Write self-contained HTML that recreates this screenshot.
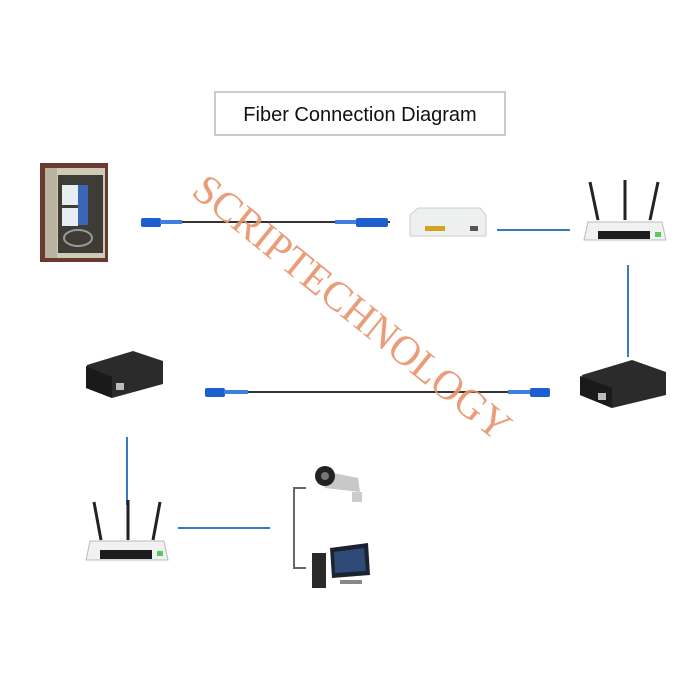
<!DOCTYPE html>
<html><head><meta charset="utf-8"><style>
html,body{margin:0;padding:0;background:#fff;width:700px;height:700px;overflow:hidden}
</style></head><body>
<svg width="700" height="700" viewBox="0 0 700 700" xmlns="http://www.w3.org/2000/svg">
<rect width="700" height="700" fill="#fff"/>
<!-- title -->
<rect x="215" y="92" width="290" height="43" fill="#fff" stroke="#bbb" stroke-width="1.5"/>
<text x="360" y="121" font-family="Liberation Sans, sans-serif" font-size="20" text-anchor="middle" fill="#111">Fiber Connection Diagram</text>

<!-- cabinet -->
<rect x="40" y="163" width="68" height="99" fill="#6b3a2e"/>
<rect x="45" y="168" width="60" height="90" fill="#cfcab8"/>
<rect x="45" y="168" width="12" height="90" fill="#b9b3a0"/>
<rect x="58" y="175" width="45" height="78" fill="#3d3c35"/>
<rect x="62" y="185" width="16" height="20" fill="#e6eef3"/>
<rect x="62" y="208" width="16" height="18" fill="#e6eef3"/>
<rect x="78" y="185" width="10" height="40" fill="#3b66b8"/>
<ellipse cx="78" cy="238" rx="14" ry="8" fill="none" stroke="#999" stroke-width="2"/>

<!-- fiber cable 1 -->
<line x1="160" y1="222" x2="390" y2="222" stroke="#333" stroke-width="2"/>
<rect x="141" y="218" width="20" height="9" rx="2" fill="#1e5fcf"/>
<rect x="160" y="220" width="22" height="4" fill="#3f7fe0"/>
<rect x="335" y="220" width="22" height="4" fill="#3f7fe0"/>
<rect x="356" y="218" width="32" height="9" rx="2" fill="#1e5fcf"/>

<!-- modem -->
<path d="M410 215 L418 208 L480 208 L486 215 L486 236 L410 236 Z" fill="#eef0ef" stroke="#ccc"/>
<rect x="425" y="226" width="20" height="5" fill="#d6a21e"/>
<rect x="470" y="226" width="8" height="5" fill="#555"/>
<line x1="497" y1="230" x2="570" y2="230" stroke="#3a78c3" stroke-width="2"/>

<!-- router top -->
<g>
<line x1="590" y1="182" x2="598" y2="220" stroke="#222" stroke-width="3"/>
<line x1="625" y1="180" x2="625" y2="220" stroke="#222" stroke-width="3"/>
<line x1="658" y1="182" x2="650" y2="220" stroke="#222" stroke-width="3"/>
<path d="M588 222 L662 222 L666 240 L584 240 Z" fill="#f1f1f1" stroke="#bbb"/>
<rect x="598" y="231" width="52" height="8" fill="#1d1d1d"/>
<rect x="655" y="232" width="6" height="5" fill="#5c5"/>
</g>
<line x1="628" y1="265" x2="628" y2="357" stroke="#3a78c3" stroke-width="2"/>

<!-- converter right -->
<path d="M582 375 L632 360 L666 372 L666 395 L612 408 L580 395 Z" fill="#2b2b2b"/>
<path d="M580 376 L612 388 L612 408 L580 395 Z" fill="#1a1a1a"/>
<rect x="598" y="393" width="8" height="7" fill="#bbb"/>

<!-- fiber cable 2 -->
<line x1="215" y1="392" x2="545" y2="392" stroke="#333" stroke-width="2"/>
<rect x="205" y="388" width="20" height="9" rx="2" fill="#1e5fcf"/>
<rect x="224" y="390" width="24" height="4" fill="#3f7fe0"/>
<rect x="508" y="390" width="22" height="4" fill="#3f7fe0"/>
<rect x="530" y="388" width="20" height="9" rx="2" fill="#1e5fcf"/>

<!-- converter left -->
<path d="M87 365 L133 351 L163 361 L163 384 L112 398 L86 388 Z" fill="#2b2b2b"/>
<path d="M86 366 L112 377 L112 398 L86 388 Z" fill="#1a1a1a"/>
<rect x="116" y="383" width="8" height="7" fill="#bbb"/>

<line x1="127" y1="437" x2="127" y2="505" stroke="#3a78c3" stroke-width="2"/>

<!-- router bottom -->
<g>
<line x1="94" y1="502" x2="101" y2="540" stroke="#222" stroke-width="3"/>
<line x1="128" y1="500" x2="128" y2="540" stroke="#222" stroke-width="3"/>
<line x1="160" y1="502" x2="153" y2="540" stroke="#222" stroke-width="3"/>
<path d="M90 541 L164 541 L168 560 L86 560 Z" fill="#f1f1f1" stroke="#bbb"/>
<rect x="100" y="550" width="52" height="9" fill="#1d1d1d"/>
<rect x="157" y="551" width="6" height="5" fill="#5c5"/>
</g>
<line x1="178" y1="528" x2="270" y2="528" stroke="#3a78c3" stroke-width="2"/>

<!-- bracket -->
<path d="M306 488 L294 488 L294 568 L306 568" fill="none" stroke="#666" stroke-width="2"/>

<!-- camera -->
<path d="M318 470 L358 478 L360 492 L325 488 Z" fill="#c8c8c8"/>
<circle cx="325" cy="476" r="10" fill="#222"/>
<circle cx="325" cy="476" r="4" fill="#777"/>
<rect x="352" y="492" width="10" height="10" fill="#ccc"/>

<!-- PC -->
<rect x="312" y="553" width="14" height="35" fill="#2a2a2a"/>
<path d="M330 548 L368 543 L370 575 L332 578 Z" fill="#1c2330"/>
<path d="M334 552 L364 548 L366 571 L335 573 Z" fill="#2d4a78"/>
<rect x="340" y="580" width="22" height="4" fill="#888"/>

<!-- watermark -->
<text x="0" y="0" transform="translate(190,194) rotate(39)" font-family="Liberation Serif, serif" font-size="42" fill="#e8936a" opacity="0.9" textLength="395" lengthAdjust="spacingAndGlyphs">SCRIPTECHNOLOGY</text>
</svg>
</body></html>
